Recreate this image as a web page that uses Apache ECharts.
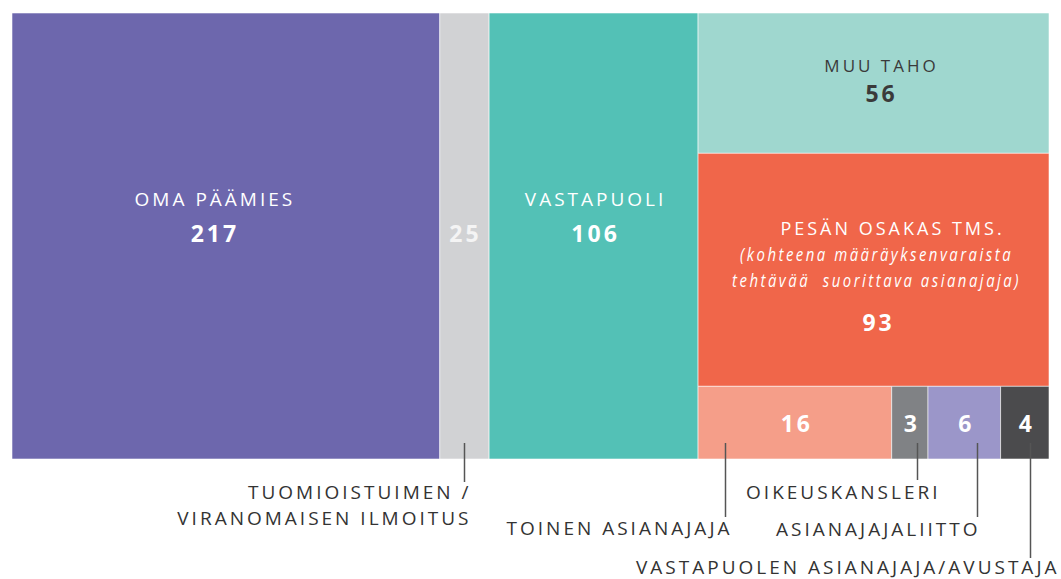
<!DOCTYPE html>
<html>
<head>
<meta charset="utf-8">
<script src="https://cdn.jsdelivr.net/npm/echarts@6/dist/echarts.min.js"></script>
<style>
  html, body { margin: 0; padding: 0; background: #fff; }
  #chart { width: 1061px; height: 579px; }
  #chart text { letter-spacing: 3px; }
</style>
</head>
<body>
<div id="chart"></div>
<script>
// data
const names = [
  'OMA PÄÄMIES',
  'TUOMIOISTUIMEN /\nVIRANOMAISEN ILMOITUS',
  'VASTAPUOLI',
  'MUU TAHO',
  'PESÄN OSAKAS TMS.',
  'TOINEN ASIANAJAJA',
  'OIKEUSKANSLERI',
  'ASIANAJAJALIITTO',
  'VASTAPUOLEN ASIANAJAJA/AVUSTAJA'
]
const values = [217, 25, 106, 56, 93, 16, 3, 6, 4]
const notes = ['', '', '', '', '(kohteena määräyksenvaraista\ntehtävää  suorittava asianajaja)', '', '', '', '']
// where each cell goes: full-height column, stacked in last column, or in the bottom row of last column
const places = ['column', 'column', 'column', 'stack', 'stack', 'row', 'row', 'row', 'row']

const colors = ['#6d67ad', '#d1d2d4', '#53c1b6', '#9fd7cf', '#f0664a', '#f59e89', '#808285', '#9b96c9', '#4b4b4d']

// label placement, pixels relative to the cell centre / bottom
const labelLayout = [
  { dx: -13, nameDy: -37, valueDy: -3, size: 19 },
  { dx: -1, valueDy: -3, callout: { at: 0.5, len: 23, dx: 7, dy: 46 } },
  { dx: 0, nameDy: -37, valueDy: -3, size: 19 },
  { dx: 6, nameDy: -18, valueDy: 10, size: 17, dark: true },
  { dx: 3, nameDx: 14, nameDy: -42, noteDy: -3, valueDy: 52, size: 18 },
  { dx: 0, valueDy: 0, callout: { at: 0.14, len: 58, dx: 7, dy: 69 } },
  { dx: 0, valueDy: 0, callout: { at: 0.7, len: 21, dx: 23, dy: 33 } },
  { dx: 0, valueDy: 0, callout: { at: 0.68, len: 58, dx: 3, dy: 70 } },
  { dx: 0, valueDy: 0, callout: { at: 0.6, len: 99, dx: 29, dy: 108 } }
]

// build cell extents in data units (x: count, y: share of height)
function buildCells () {
  const cells = []
  let x = 0
  places.forEach(function (p, i) {
    if (p === 'column') {
      cells.push([x, x + values[i], 0, 1, i])
      x += values[i]
    }
  })
  const rest = values.filter(function (v, i) { return places[i] !== 'column' })
    .reduce(function (a, b) { return a + b }, 0)
  const rowTotal = values.filter(function (v, i) { return places[i] === 'row' })
    .reduce(function (a, b) { return a + b }, 0)
  let y = 0
  places.forEach(function (p, i) {
    if (p === 'stack') {
      cells.push([x, x + rest, y, y + values[i] / rest, i])
      y += values[i] / rest
    }
  })
  let rx = x
  places.forEach(function (p, i) {
    if (p === 'row') {
      const w = values[i] / rowTotal * rest
      cells.push([rx, rx + w, y, 1, i])
      rx += w
    }
  })
  return cells
}

const total = values.reduce(function (a, b) { return a + b }, 0)
const font = '"Open Sans", "Noto Sans", sans-serif'

function renderItem (params, api) {
  const i = api.value(4)
  const p0 = api.coord([api.value(0), api.value(2)])
  const p1 = api.coord([api.value(1), api.value(3)])
  const x = p0[0]
  const y = p0[1]
  const w = p1[0] - p0[0]
  const h = p1[1] - p0[1]
  const lab = labelLayout[i]
  const cx = x + w / 2 + lab.dx
  const cy = y + h / 2
  const ink = lab.dark ? '#3a3a3a' : '#ffffff'
  const children = [{
    type: 'rect',
    shape: { x: x, y: y, width: w, height: h },
    style: { fill: colors[i], stroke: 'rgba(255,255,255,0.7)', lineWidth: 0.8 }
  }]
  if (lab.nameDy !== undefined) {
    children.push({
      type: 'text',
      style: { text: names[i], x: cx + 2 + (lab.nameDx || 0), y: cy + lab.nameDy, align: 'center', verticalAlign: 'middle', fill: ink, font: lab.size + 'px ' + font }
    })
  }
  if (lab.noteDy !== undefined) {
    children.push({
      type: 'text',
      originX: cx,
      originY: cy,
      scaleX: 0.83,
      style: { text: notes[i], x: cx, y: cy + lab.noteDy, align: 'center', verticalAlign: 'middle', fill: ink, font: 'italic 18px ' + font, lineHeight: 26 }
    })
  }
  children.push({
    type: 'text',
    style: { text: String(values[i]), x: cx + 2, y: cy + lab.valueDy, align: 'center', verticalAlign: 'middle', fill: i === 1 ? '#f4f4f4' : ink, font: 'bold 23px ' + font }
  })
  if (lab.callout) {
    const c = lab.callout
    const lx = Math.round(x + w * c.at) + 0.5
    const bottom = y + h
    children.push({
      type: 'line',
      shape: { x1: lx, y1: bottom - 16, x2: lx, y2: bottom + c.len },
      style: { stroke: '#555555', lineWidth: 1.5 }
    })
    children.push({
      type: 'text',
      style: { text: names[i], x: lx + c.dx, y: bottom + c.dy, align: 'right', verticalAlign: 'middle', fill: '#333333', font: '19px ' + font, lineHeight: 26 }
    })
  }
  return { type: 'group', children: children }
}

const chart = echarts.init(document.getElementById('chart'), null, { renderer: 'svg' })
chart.setOption({
  animation: false,
  grid: { left: 12, right: 12, top: 13, bottom: 120 },
  xAxis: { type: 'value', min: 0, max: total, show: false },
  yAxis: { type: 'value', min: 0, max: 1, inverse: true, show: false },
  series: [{
    type: 'custom',
    renderItem: renderItem,
    encode: { x: [0, 1], y: [2, 3] },
    clip: false,
    data: buildCells()
  }]
})
</script>
</body>
</html>
